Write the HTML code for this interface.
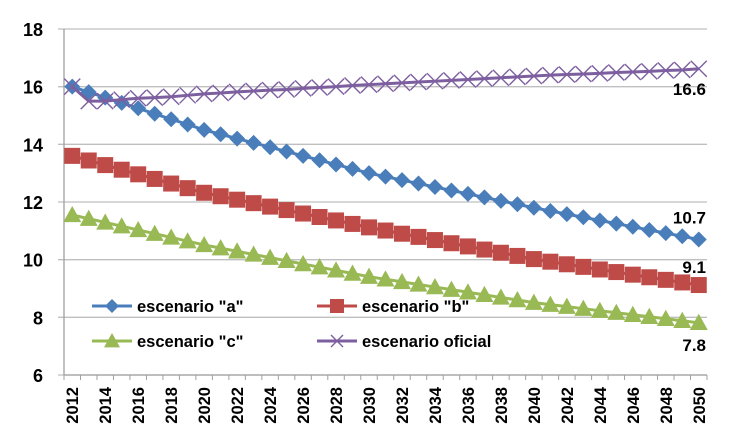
<!DOCTYPE html>
<html><head><meta charset="utf-8"><style>
body{margin:0;background:#fff;width:748px;height:442px;overflow:hidden}
svg text{font-family:"Liberation Sans",Arial,sans-serif;font-weight:bold;fill:#000}
</style></head><body>
<svg id="chart" width="748" height="442" viewBox="0 0 748 442" xmlns="http://www.w3.org/2000/svg"></svg>
<script>
const years=[];for(let y=2012;y<=2050;y++)years.push(y);
const seriesA=[16.0,15.81,15.62,15.44,15.25,15.06,14.87,14.69,14.5,14.35,14.2,14.05,13.9,13.75,13.6,13.45,13.3,13.15,13.0,12.88,12.76,12.64,12.52,12.4,12.28,12.16,12.04,11.92,11.8,11.69,11.58,11.47,11.36,11.25,11.14,11.03,10.92,10.81,10.7];
const seriesB=[13.6,13.44,13.28,13.12,12.96,12.8,12.64,12.48,12.32,12.2,12.08,11.96,11.84,11.72,11.6,11.48,11.36,11.24,11.12,11.01,10.9,10.79,10.68,10.57,10.46,10.35,10.24,10.13,10.02,9.93,9.84,9.75,9.66,9.57,9.48,9.39,9.3,9.21,9.12];
const seriesC=[11.55,11.42,11.29,11.16,11.03,10.9,10.77,10.64,10.51,10.4,10.29,10.18,10.07,9.96,9.85,9.74,9.63,9.52,9.41,9.32,9.23,9.14,9.05,8.96,8.87,8.78,8.69,8.6,8.51,8.44,8.37,8.3,8.23,8.16,8.09,8.02,7.95,7.88,7.81];
const seriesOf=[16.0,15.5,15.5,15.55,15.6,15.62,15.65,15.7,15.75,15.78,15.82,15.85,15.88,15.9,15.94,15.97,16.0,16.04,16.07,16.1,16.13,16.16,16.19,16.22,16.25,16.28,16.31,16.34,16.37,16.4,16.42,16.44,16.46,16.49,16.51,16.53,16.56,16.58,16.62];
const yTicks=[6,8,10,12,14,16,18];
const endLabels=["10.7","9.1","7.8","16.6"];

const NS="http://www.w3.org/2000/svg";
const svg=document.getElementById('chart');
const L=64,R=707,T=29,B=375,ymin=6,ymax=18;
const step=(R-L)/years.length;
const X=i=>L+(i+0.5)*step;
const Y=v=>B-(v-ymin)/(ymax-ymin)*(B-T);
function el(tag,at,parent){const e=document.createElementNS(NS,tag);for(const k in at)e.setAttribute(k,at[k]);(parent||svg).appendChild(e);return e;}

yTicks.forEach(v=>{
  const g=el('line',{x1:L-6,x2:R,y1:Y(v),y2:Y(v),stroke:'#bfbfbf','stroke-width':1.3});
  
  
  const t=el('text',{x:43,y:Y(v)+7,'text-anchor':'end','font-size':18});
  t.textContent=v;
  
  
});
const ax=el('line',{x1:L,x2:L,y1:T,y2:B,stroke:'#a0a0a0','stroke-width':1.3});


const xa=el('line',{x1:L,x2:R,y1:B,y2:B,stroke:'#a0a0a0','stroke-width':1.3});


for(let i=0;i<=years.length;i++){
  const tk=el('line',{x1:L+i*step,x2:L+i*step,y1:B,y2:B+5,stroke:'#a0a0a0','stroke-width':1});
  
  
}
years.forEach((yr,i)=>{
  if(i%2)return;
  const t=el('text',{x:0,y:0,'text-anchor':'end','font-size':16.5,transform:`translate(${X(i)+6},${B+12}) rotate(-90)`});
  t.textContent=yr;
  
  
});

function marker(type,cx,cy,color,g,s){
  if(type==='diamond')return el('polygon',{points:`${cx},${cy-s} ${cx+s},${cy} ${cx},${cy+s} ${cx-s},${cy}`,fill:color},g);
  if(type==='square')return el('rect',{x:cx-s,y:cy-s,width:2*s,height:2*s,fill:color},g);
  if(type==='tri')return el('polygon',{points:`${cx},${cy-s} ${cx+s},${cy+s*0.8} ${cx-s},${cy+s*0.8}`,fill:color},g);
  return el('path',{d:`M${cx-s},${cy-s}L${cx+s},${cy+s}M${cx+s},${cy-s}L${cx-s},${cy+s}`,stroke:color,'stroke-width':1.4,fill:'none'},g);
}
const series=[
 {name:'escenario "a"',data:seriesA,color:'#4a7ebb',type:'diamond',s:8,key:'a'},
 {name:'escenario "b"',data:seriesB,color:'#be4b48',type:'square',s:8,key:'b'},
 {name:'escenario "c"',data:seriesC,color:'#98b954',type:'tri',s:9,key:'c'},
 {name:'escenario oficial',data:seriesOf,color:'#7d5fa0',type:'x',s:8,key:'oficial'}
];
series.forEach(sr=>{
  const g=el('g',{});
  
  
  const pl=el('polyline',{points:sr.data.map((v,i)=>X(i)+','+Y(v)).join(' '),fill:'none',stroke:sr.color,'stroke-width':3},g);
  
  
  sr.data.forEach((v,i)=>{
    const m=marker(sr.type,X(i),Y(v),sr.color,g,sr.s);
    
    
  });
});
const lastI=years.length-1;
const lblPos=[[seriesA,-16,'a'],[seriesB,-12,'b'],[seriesC,28,'c'],[seriesOf,26,'oficial']];
lblPos.forEach((p,k)=>{
  const t=el('text',{x:R-1,y:Y(p[0][lastI])+p[1],'text-anchor':'end','font-size':17});
  t.textContent=endLabels[k];
  
  
});
const lg=el('g',{});


const lpos=[[92,306],[317,306],[92,341],[317,341]];
series.forEach((sr,k)=>{
  const [lx,ly]=lpos[k];
  const g=el('g',{},lg);
  
  
  el('line',{x1:lx,x2:lx+40,y1:ly,y2:ly,stroke:sr.color,'stroke-width':3},g);
  marker(sr.type,lx+20,ly,sr.color,g,sr.type==='x'?6:sr.s-1);
  const t=el('text',{x:lx+45,y:ly+6,'font-size':16.5},g);
  t.textContent=sr.name;
});
</script>
</body></html>
